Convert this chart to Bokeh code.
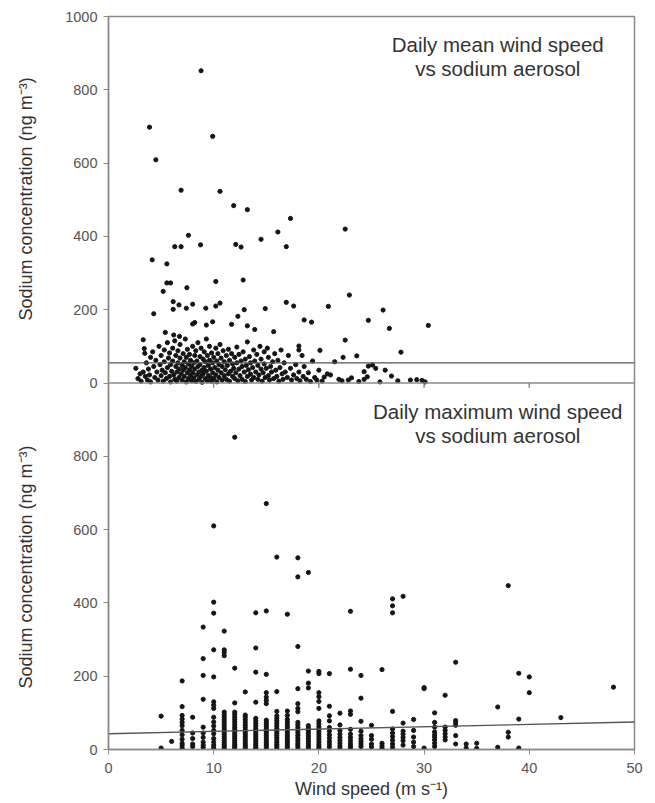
from bokeh.plotting import figure
from bokeh.models import Range1d, FixedTicker, Label, Span
from bokeh.embed import file_html
from bokeh.resources import INLINE

# ---------------- data ----------------
x_ticks = [0, 10, 20, 30, 40, 50]
panel_y_ticks = [0, 200, 400, 600, 800, 1000]   # each panel spans 0..1000

x_title = "Wind speed (m s\u207b\u00b9)"
y_title = "Sodium concentration (ng m\u207b\u00b3)"
top_note = ["Daily mean wind speed", "vs sodium aerosol"]
bottom_note = ["Daily maximum wind speed", "vs sodium aerosol"]

# fitted lines (intercept, slope)
mean_fit = (55, 0.0)
max_fit = (43, 0.64)

# daily mean wind speed (m/s), sodium (ng/m3)
daily_mean_points = [
    (8.8, 852), (3.9, 698), (4.5, 609), (9.9, 673), (6.9, 526), (10.6, 523), (11.9, 484),
    (13.2, 473), (17.3, 449), (16.1, 412), (22.5, 420), (7.6, 403), (6.3, 372), (6.9, 372),
    (8.75, 377), (12.1, 378), (12.6, 371), (14.5, 392), (16.9, 372), (4.15, 336), (5.55, 325),
    (5.55, 273), (5.9, 273), (5.2, 250), (7.45, 260), (10.2, 277), (12.8, 281), (22.9, 240),
    (4.3, 189), (6.15, 222), (6.15, 201), (6.7, 213), (7.4, 204), (8.0, 215), (9.25, 204),
    (10.2, 210), (10.6, 218), (12.9, 200), (14.9, 203), (16.9, 220), (17.6, 210), (20.9, 209),
    (26.1, 199), (30.4, 157), (24.7, 171), (26.7, 149), (18.6, 172), (19.3, 166), (15.7, 140),
    (13.9, 146), (13.2, 156), (12.3, 182), (11.7, 160), (9.9, 167), (9.3, 158), (8.2, 165),
    (8.0, 161), (5.4, 138), (6.2, 131), (6.75, 127), (22.5, 117), (3.3, 118),
    (2.6, 40), (2.8, 12), (3.0, 25), (3.1, 5), (3.3, 30), (3.4, 94), (3.45, 81), (3.5, 18),
    (3.6, 55), (3.7, 8), (3.8, 38), (3.9, 22), (4.0, 70), (4.0, 3),
    (4.2, 85), (4.3, 45), (4.4, 15), (4.5, 62), (4.6, 30), (4.7, 8), (4.8, 100), (4.9, 50),
    (5.0, 20), (5.0, 75), (5.1, 35), (5.2, 5), (5.3, 90), (5.3, 58), (5.4, 28), (5.5, 12),
    (5.6, 110), (5.6, 42), (5.7, 68), (5.8, 18), (5.8, 82), (5.9, 3), (5.9, 50), (6.0, 32),
    (6.1, 95), (6.1, 60), (6.2, 22), (6.3, 10), (6.3, 115), (6.4, 45), (6.4, 75), (6.5, 30),
    (6.5, 5), (6.6, 88), (6.6, 55), (6.7, 15), (6.7, 38), (6.8, 105), (6.8, 68), (6.9, 25),
    (7.0, 48), (7.0, 8), (7.1, 80), (7.1, 35), (7.2, 58), (7.2, 18), (7.3, 120), (7.3, 42),
    (7.4, 3), (7.4, 70), (7.5, 28), (7.5, 92), (7.6, 12), (7.6, 52), (7.7, 36), (7.7, 78),
    (7.8, 20), (7.8, 62), (7.9, 6), (7.9, 45), (8.0, 100), (8.0, 28),
    (8.1, 55), (8.1, 14), (8.2, 75), (8.2, 38), (8.3, 4), (8.3, 88), (8.4, 22), (8.4, 60),
    (8.5, 110), (8.5, 45), (8.6, 10), (8.6, 30), (8.7, 72), (8.7, 50), (8.8, 18), (8.8, 95),
    (8.9, 35), (8.9, 2), (9.0, 65), (9.0, 25), (9.1, 85), (9.1, 42), (9.2, 12), (9.2, 58),
    (9.3, 120), (9.3, 32), (9.4, 6), (9.4, 75), (9.5, 48), (9.5, 20), (9.6, 100), (9.6, 62),
    (9.7, 15), (9.7, 38), (9.8, 82), (9.8, 5), (9.9, 55), (9.9, 28), (10.0, 70), (10.0, 12),
    (10.1, 42), (10.2, 95), (10.2, 22), (10.3, 60), (10.3, 3), (10.4, 35), (10.4, 80),
    (10.5, 15), (10.5, 50), (10.6, 105), (10.7, 28), (10.7, 68), (10.8, 8), (10.8, 45),
    (10.9, 88), (11.0, 20), (11.0, 58), (11.1, 36), (11.2, 75), (11.2, 10), (11.3, 48),
    (11.4, 25), (11.4, 92), (11.5, 62), (11.5, 5), (11.6, 32), (11.7, 80), (11.8, 18),
    (11.8, 52), (11.9, 40), (12.0, 12), (12.0, 70),
    (12.1, 28), (12.2, 98), (12.2, 55), (12.3, 6), (12.4, 38), (12.4, 78), (12.5, 20),
    (12.6, 60), (12.7, 45), (12.7, 10), (12.8, 85), (12.9, 30), (13.0, 65), (13.0, 4),
    (13.1, 48), (13.2, 18), (13.2, 112), (13.3, 36), (13.4, 72), (13.5, 24), (13.5, 55),
    (13.6, 8), (13.7, 42), (13.8, 90), (13.8, 15), (13.9, 60), (14.0, 30),
    (14.1, 78), (14.2, 10), (14.2, 48), (14.3, 22), (14.4, 100), (14.5, 38), (14.5, 65),
    (14.6, 5), (14.7, 28), (14.8, 85), (14.8, 52), (14.9, 15), (15.0, 40), (15.1, 95),
    (15.2, 20), (15.2, 70), (15.3, 8), (15.4, 45), (15.5, 30), (15.6, 58), (15.7, 12),
    (15.8, 80), (15.9, 35), (16.0, 18),
    (16.1, 62), (16.2, 5), (16.3, 42), (16.4, 90), (16.5, 25), (16.6, 10), (16.7, 55),
    (16.8, 30), (17.0, 15), (17.1, 75), (17.3, 40), (17.4, 8), (17.6, 22), (17.8, 50),
    (17.9, 12), (18.1, 101), (18.1, 90), (18.1, 30), (18.2, 6), (18.4, 75), (18.5, 18),
    (18.6, 45), (18.8, 10), (19.0, 28), (19.2, 4), (19.4, 60), (19.6, 15), (19.8, 8),
    (20.0, 35), (20.1, 89),
    (20.3, 5), (20.5, 16), (20.8, 25), (21.1, 22), (21.5, 58), (21.9, 10), (22.2, 6),
    (22.3, 70), (22.8, 8), (23.1, 14), (23.6, 74), (23.8, 4), (24.3, 31), (24.3, 10),
    (24.6, 17), (24.7, 46), (25.1, 49), (25.4, 40), (25.8, 3), (26.3, 35), (26.9, 19),
    (27.5, 6), (27.8, 84), (28.7, 8), (29.3, 9), (29.8, 7), (30.1, 3),
]

# daily maximum wind speed (m/s) columns and their sodium values (ng/m3)
max_speed_columns = [5, 6, 7, 8, 9, 10, 11, 12, 13, 14, 15, 16, 17, 18, 19, 20, 21, 22,
                     23, 24, 25, 26, 27, 28, 29, 30, 31, 32, 33, 34, 35, 37, 38, 39, 40,
                     43, 48]
max_sodium_columns = [
    [91, 4],
    [22],
    [187, 117, 93, 83, 74, 65, 52, 40, 28, 17, 11, 4],
    [88, 45, 30, 15, 8],
    [334, 248, 202, 137, 61, 45, 33, 20, 12, 6],
    [610, 402, 372, 272, 198, 130, 121, 112, 88, 75, 64, 52, 43, 30, 20, 11, 4],
    [323, 272, 265, 256, 102, 95, 88, 81, 74, 67, 60, 54, 48, 42, 36, 30, 24, 18, 13, 8, 3],
    [852, 222, 127, 102, 96, 89, 82, 75, 68, 61, 55, 49, 43, 37, 31, 25, 19, 14, 9, 4],
    [157, 94, 88, 81, 74, 67, 60, 53, 47, 41, 35, 29, 23, 17, 12, 7, 2],
    [373, 277, 211, 129, 85, 79, 72, 65, 58, 52, 46, 40, 34, 28, 22, 16, 11, 6, 2],
    [671, 378, 205, 155, 143, 134, 125, 80, 74, 68, 62, 56, 50, 44, 38, 32, 26, 20, 15, 10, 5],
    [525, 158, 104, 92, 85, 78, 71, 64, 57, 50, 44, 38, 32, 26, 20, 14, 9, 4],
    [369, 105, 93, 82, 75, 68, 61, 54, 47, 40, 34, 28, 22, 16, 10, 5],
    [523, 471, 281, 166, 125, 112, 103, 74, 67, 60, 53, 46, 39, 32, 25, 18, 12, 6],
    [483, 214, 181, 168, 65, 58, 51, 44, 37, 30, 23, 16, 10, 4],
    [213, 207, 155, 144, 131, 112, 78, 70, 62, 55, 48, 41, 34, 27, 20, 13, 7, 2],
    [207, 118, 92, 78, 60, 50, 40, 31, 22, 14, 7],
    [99, 67, 52, 42, 33, 25, 17, 10, 4],
    [377, 219, 105, 96, 55, 42, 33, 24, 16, 9, 3],
    [202, 140, 77, 50, 38, 29, 22, 15, 8],
    [66, 38, 28, 15, 7],
    [218, 17, 10, 4],
    [411, 392, 373, 104, 56, 45, 35, 25, 15, 6],
    [418, 72, 50, 42, 33, 24, 12],
    [82, 52, 34, 20, 8],
    [169, 166, 4],
    [100, 74, 61, 48, 40, 34, 26, 17, 8],
    [148, 61, 52, 43, 34, 26],
    [238, 79, 73, 66, 38, 15],
    [15, 4],
    [17, 3],
    [116, 6],
    [447, 47, 34],
    [208, 83, 4],
    [198, 155],
    [87],
    [170],
]

# ---------------- build ----------------
PANEL = 1000          # height of one panel in data units; top panel is stacked above
X_MIN, X_MAX = 0, 50

mean_x = [p[0] for p in daily_mean_points]
mean_y = [p[1] + PANEL for p in daily_mean_points]
max_x, max_y = [], []
for s, vals in zip(max_speed_columns, max_sodium_columns):
    for v in vals:
        max_x.append(s)
        max_y.append(v)

FONT = "Liberation Sans"
FRAME_COL = "#8a8a8a"
TICK_COL = "#555555"
TITLE_COL = "#333333"
PT_COL = "#151515"
FIT_COL = "#555555"

p = figure(frame_width=526, frame_height=733,
           x_range=Range1d(X_MIN, X_MAX), y_range=Range1d(0, 2 * PANEL),
           output_backend="svg", toolbar_location=None,
           min_border_left=108, min_border_right=13,
           min_border_top=16, min_border_bottom=0)
p.grid.visible = False
p.outline_line_color = FRAME_COL
p.outline_line_width = 1.5
p.background_fill_color = "white"
p.border_fill_color = "white"

# y axis: bottom panel 0..800, top panel 0..1000; one title centred on each panel
ya = p.yaxis[0]
ticks = [t for t in panel_y_ticks if t < PANEL] + [t + PANEL for t in panel_y_ticks]
ya.ticker = FixedTicker(ticks=ticks)
ya.major_label_overrides = {t: str(t if t < PANEL else t - PANEL) for t in ticks}
ya.axis_label = y_title + "\u00a0" * 25 + y_title
ya.axis_label_text_font = FONT
ya.axis_label_text_font_size = "18px"
ya.axis_label_text_font_style = "normal"
ya.axis_label_text_color = TITLE_COL
ya.axis_label_standoff = 26
ya.major_label_text_font = FONT
ya.major_label_text_font_size = "14.5px"
ya.major_label_text_color = TICK_COL
ya.major_label_standoff = 6
ya.major_tick_out = 5
ya.major_tick_in = 0
ya.minor_tick_out = 0
ya.minor_tick_in = 0
ya.axis_line_color = FRAME_COL
ya.major_tick_line_color = FRAME_COL
ya.axis_line_width = 1.5

xa = p.xaxis[0]
xa.ticker = FixedTicker(ticks=x_ticks)
xa.axis_label = x_title
xa.axis_label_text_font = FONT
xa.axis_label_text_font_size = "18px"
xa.axis_label_text_font_style = "normal"
xa.axis_label_text_color = TITLE_COL
xa.axis_label_standoff = 3
xa.major_label_text_font = FONT
xa.major_label_text_font_size = "14.5px"
xa.major_label_text_color = TICK_COL
xa.major_label_standoff = 8
xa.major_tick_out = 5
xa.major_tick_in = 0
xa.minor_tick_out = 0
xa.minor_tick_in = 0
xa.axis_line_color = FRAME_COL
xa.major_tick_line_color = FRAME_COL
xa.axis_line_width = 1.5

# separation between the panels (x axis of the top panel)
p.add_layout(Span(location=PANEL, dimension="width", line_color=FRAME_COL, line_width=1.5))
inner_ticks = [t for t in x_ticks if X_MIN < t < X_MAX]
p.segment(x0=inner_ticks, y0=[PANEL] * len(inner_ticks),
          x1=inner_ticks, y1=[PANEL - 13] * len(inner_ticks),
          line_color=FRAME_COL, line_width=1.5)

# data
p.scatter(mean_x, mean_y, marker="circle", size=4.2, color=PT_COL)
p.scatter(max_x, max_y, marker="circle", size=4.2, color=PT_COL)

# fitted lines
p.line([X_MIN, X_MAX], [PANEL + mean_fit[0] + mean_fit[1] * X_MIN,
                        PANEL + mean_fit[0] + mean_fit[1] * X_MAX],
       line_color=FIT_COL, line_width=1.3)
p.line([X_MIN, X_MAX], [max_fit[0] + max_fit[1] * X_MIN, max_fit[0] + max_fit[1] * X_MAX],
       line_color=FIT_COL, line_width=1.3)

# panel notes
for base, note in ((PANEL, top_note), (0, bottom_note)):
    for i, t in enumerate(note):
        p.add_layout(Label(x=37.0, y=base + 923 - 66 * i, text=t, text_align="center",
                           text_baseline="middle", text_font=FONT,
                           text_font_size="20.5px", text_color=TITLE_COL))

open("out.html", "w").write(file_html(p, INLINE))
